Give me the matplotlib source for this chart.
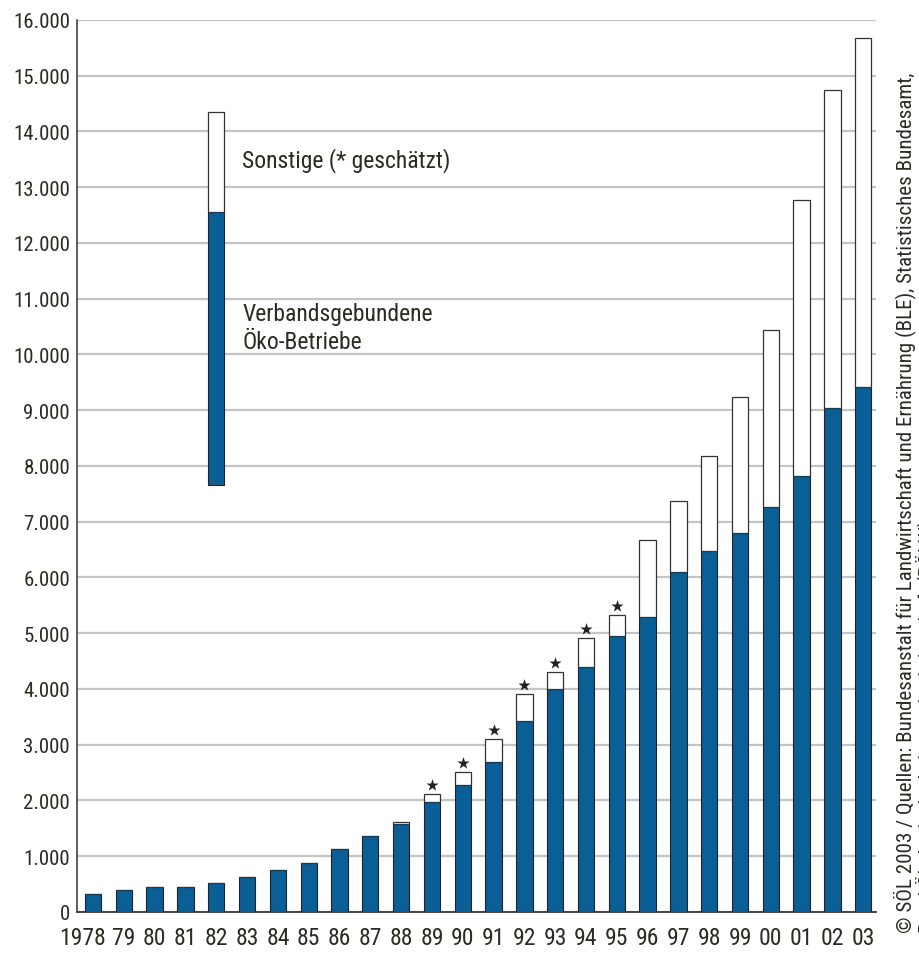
import matplotlib
matplotlib.use('Agg')
import matplotlib.pyplot as plt
import matplotlib.transforms as mtransforms
from matplotlib import font_manager
import numpy as np

# pick a condensed sans if one is installed, like the original's typeface
installed = {f.name for f in font_manager.fontManager.ttflist}
narrow = [n for n in ['Roboto Condensed', 'Archivo Narrow', 'PT Sans Narrow',
                      'Liberation Sans Narrow', 'Fira Sans Condensed', 'Barlow Condensed']
          if n in installed]
plt.rcParams['font.family'] = narrow[:1] + ['Liberation Sans', 'DejaVu Sans']

years = ['1978', '79', '80', '81', '82', '83', '84', '85', '86', '87', '88', '89', '90',
         '91', '92', '93', '94', '95', '96', '97', '98', '99', '00', '01', '02', '03']
verband = [330, 390, 443, 455, 515, 623, 755, 886, 1138, 1371, 1575, 1976, 2280,
           2688, 3424, 4004, 4399, 4949, 5290, 6092, 6478, 6804, 7259, 7828, 9048, 9408]
sonstige = [0, 0, 0, 0, 0, 0, 0, 0, 0, 0, 42, 144, 228,
            418, 490, 299, 514, 371, 1376, 1275, 1693, 2436, 3178, 4943, 5697, 6265]
geschaetzt = ['89', '90', '91', '92', '93', '94', '95']

# legend bar (drawn inside the plot like in the original)
legend_x = 4
legend_blue = (7650, 12550)
legend_white = (12550, 14350)

blue = '#0b5f97'
txt = '#2b2b22'

fig = plt.figure(figsize=(9.2, 9.54), dpi=100)
ax = fig.add_axes([0.0837, 0.043, 0.868, 0.935])

x = np.arange(len(years))
w = 0.53
ax.bar(x, verband, width=w, color=blue, edgecolor='#222222', linewidth=0.8, zorder=3)
ax.bar(x, sonstige, bottom=verband, width=w, color='white', edgecolor='#333333',
       linewidth=0.9, zorder=3)

tops = np.array(verband) + np.array(sonstige)
star_x = [i for i, y in enumerate(years) if y in geschaetzt]
ax.scatter(star_x, tops[star_x] + 160, marker='*', s=85, color='#222222',
           linewidths=0, zorder=4)

ax.bar(legend_x, legend_blue[1] - legend_blue[0], bottom=legend_blue[0], width=w,
       color=blue, edgecolor='#222222', linewidth=0.8, zorder=3)
ax.bar(legend_x, legend_white[1] - legend_white[0], bottom=legend_white[0], width=w,
       color='white', edgecolor='#333333', linewidth=0.9, zorder=3)
ax.text(legend_x + 0.85, 13500, 'Sonstige (* geschätzt)', fontsize=17, color=txt,
        va='center', ha='left')
ax.text(legend_x + 0.85, 10480, 'Verbandsgebundene\nÖko-Betriebe', fontsize=17,
        color=txt, va='center', ha='left', linespacing=1.27)

ax.set_xlim(-0.52, 25.4)
ax.set_ylim(0, 16000)
ax.set_yticks(np.arange(0, 16001, 1000))
ax.set_yticklabels(['{:,}'.format(v).replace(',', '.') for v in range(0, 16001, 1000)],
                   fontsize=15, color=txt)
ax.set_xticks(x)
ax.set_xticklabels(years, fontsize=17, color=txt)
ax.tick_params(axis='both', length=0, pad=5)
ax.tick_params(axis='x', pad=10)

# first year label sits a little left of its bar
lbl = ax.get_xticklabels()[0]
lbl.set_transform(lbl.get_transform() + mtransforms.ScaledTranslation(-0.11, 0, fig.dpi_scale_trans))

ax.grid(axis='y', color='#c4c4c4', linewidth=1.6, zorder=0)
ax.set_axisbelow(True)
for s in ['top', 'right']:
    ax.spines[s].set_visible(False)
ax.spines['left'].set_color('#444444')
ax.spines['bottom'].set_color('#444444')
ax.spines['left'].set_linewidth(1.2)
ax.spines['bottom'].set_linewidth(1.4)

fig.text(0.983, 1 - 933 / 954, '© SÖL 2003 / Quellen: Bundesanstalt für Landwirtschaft und '
         'Ernährung (BLE), Statistisches Bundesamt,', rotation=90, ha='center', va='bottom',
         fontsize=15.1, color=txt)
fig.text(1.007, 1 - 933 / 954, 'Bund Ökologische Lebensmittelwirtschaft (BÖLW)',
         rotation=90, ha='center', va='bottom', fontsize=15.1, color=txt)

fig.savefig('out.png', dpi=100)
